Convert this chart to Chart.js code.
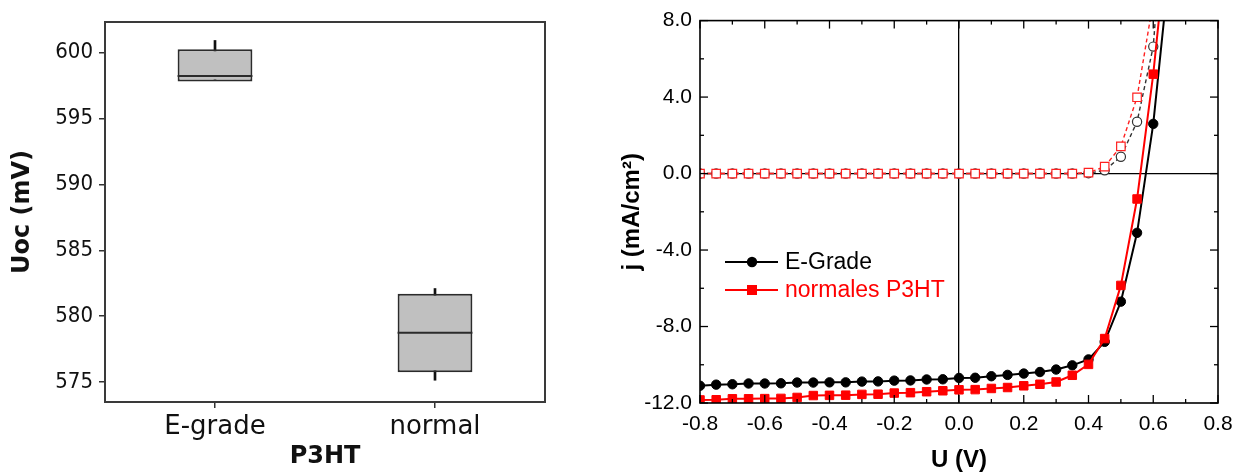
<!DOCTYPE html>
<html>
<head>
<meta charset="utf-8">
<script src="https://cdn.jsdelivr.net/npm/chart.js@4.4.0/dist/chart.umd.min.js"></script>
<style>
    html, body { margin: 0; padding: 0; background: #fff; }
    #wrap { position: relative; width: 1242px; height: 476px; }
    .panel { position: absolute; top: 0; height: 476px; }
    #left { left: 0; width: 620px; }
    #right { left: 620px; width: 622px; }
</style>
</head>
<body>
<div id="wrap">
    <div class="panel" id="left"><canvas id="uoc-chart"></canvas></div>
    <div class="panel" id="right"><canvas id="jv-chart"></canvas></div>
</div>
<script>
// start: data
// left: Uoc box plot
var groups = ['E-grade', 'normal'];
var uocMin = [597.9, 575.15];
var uocQ1 = [597.8, 575.76];
var uocMedian = [598.2, 578.75];
var uocQ3 = [600.23, 581.7];
var uocMax = [600.9, 582.1];
var uocTicks = [575, 580, 585, 590, 595, 600];

// right: j-U curves (light = filled markers, dark = open markers)
var voltage = [-0.8, -0.75, -0.7, -0.65, -0.6, -0.55, -0.5, -0.45, -0.4, -0.35,
               -0.3, -0.25, -0.2, -0.15, -0.1, -0.05, 0.0, 0.05, 0.1, 0.15,
               0.2, 0.25, 0.3, 0.35, 0.4, 0.45, 0.5, 0.55, 0.6, 0.65];
var jEgradeLight = [-11.1, -11.04, -11.02, -10.98, -10.98, -10.97, -10.93, -10.93, -10.92, -10.92,
                    -10.88, -10.87, -10.83, -10.82, -10.77, -10.76, -10.69, -10.68, -10.6, -10.53,
                    -10.46, -10.38, -10.25, -10.03, -9.72, -8.8, -6.7, -3.1, 2.6, 10.8];
var jNormalLight = [-11.84, -11.83, -11.78, -11.78, -11.77, -11.76, -11.71, -11.61, -11.6, -11.59,
                    -11.55, -11.54, -11.48, -11.46, -11.41, -11.36, -11.31, -11.3, -11.24, -11.19,
                    -11.1, -11.02, -10.9, -10.55, -9.98, -8.63, -5.85, -1.33, 5.2, 13.4];
var jEgradeDark = [0, 0, 0, 0, 0, 0, 0, 0, 0, 0,
                   0, 0, 0, 0, 0, 0, 0, 0, 0, 0,
                   0, 0, 0, 0, 0.02, 0.17, 0.88, 2.71, 6.64, 17.6];
var jNormalDark = [0, 0, 0, 0, 0, 0, 0, 0, 0, 0,
                   0, 0, 0, 0, 0, 0, 0, 0, 0, 0,
                   0, 0, 0, 0, 0.05, 0.36, 1.42, 3.99, 9.0, 18.0];
var voltTicks = [-0.8, -0.6, -0.4, -0.2, 0.0, 0.2, 0.4, 0.6, 0.8];
var jTicks = [-12, -8, -4, 0, 4, 8];
// end: data

function points(xs, ys) {
    return xs.map(function(x, i) { return { x: x, y: ys[i] }; });
}

function setTicks(values) {
    return function(scale) {
        scale.ticks = values.map(function(v) { return { value: v }; });
    };
}

// start: Uoc box plot
var boxExtras = {
    id: 'boxExtras',
    afterDatasetsDraw: function(chart) {
        var ctx = chart.ctx;
        var y = chart.scales.y;
        var meta = chart.getDatasetMeta(0);
        ctx.save();
        ctx.strokeStyle = '#2b2b2b';
        ctx.lineWidth = 2;
        meta.data.forEach(function(bar, i) {
            var py = y.getPixelForValue(uocMedian[i]);
            ctx.beginPath();
            ctx.moveTo(bar.x - bar.width / 2, py);
            ctx.lineTo(bar.x + bar.width / 2, py);
            ctx.stroke();
        });
        // frame
        var a = chart.chartArea;
        ctx.strokeStyle = '#3a3a3a';
        ctx.lineWidth = 2;
        ctx.strokeRect(a.left, a.top, a.right - a.left, a.bottom - a.top);
        ctx.restore();
    }
};

new Chart(document.getElementById('uoc-chart'), {
    type: 'bar',
    data: {
        labels: groups,
        datasets: [
            {
                label: 'box',
                data: groups.map(function(g, i) { return [uocQ1[i], uocQ3[i]]; }),
                backgroundColor: '#c0c0c0',
                borderColor: '#2b2b2b',
                borderWidth: 2,
                borderSkipped: false,
                grouped: false,
                categoryPercentage: 1,
                barPercentage: 0.34,
                order: 0
            },
            {
                label: 'whisker',
                data: groups.map(function(g, i) { return [uocMin[i], uocMax[i]]; }),
                backgroundColor: '#111',
                barThickness: 2,
                grouped: false,
                order: 1
            }
        ]
    },
    options: {
        responsive: true,
        maintainAspectRatio: false,
        animation: false,
        devicePixelRatio: 1,
        layout: { padding: { top: 22, right: 75, left: 0, bottom: 0 } },
        plugins: { legend: { display: false }, tooltip: { enabled: false } },
        scales: {
            x: {
                afterFit: function(s) { s.height = 74; },
                grid: { offset: false, drawOnChartArea: false, tickLength: 6, color: '#333', lineWidth: 1.5 },
                border: { display: false },
                ticks: { color: '#111', padding: 4, font: { family: 'DejaVu Sans', size: 26 } },
                title: { display: true, text: 'P3HT', color: '#111', padding: { top: 0, bottom: 5 },
                         font: { family: 'DejaVu Sans', weight: 'bold', size: 24 } }
            },
            y: {
                min: 573.5,
                max: 602.3,
                afterFit: function(s) { s.width = 105; },
                afterBuildTicks: setTicks(uocTicks),
                grid: { drawOnChartArea: false, tickLength: 6, color: '#333', lineWidth: 1.5 },
                border: { display: false },
                ticks: { color: '#111', padding: 6, font: { family: '"DejaVu Sans Condensed", "DejaVu Sans"', size: 22 } },
                title: { display: true, text: 'Uoc (mV)', color: '#111', padding: { top: 8, bottom: 0 },
                         font: { family: 'DejaVu Sans', weight: 'bold', size: 24 } }
            }
        }
    },
    plugins: [boxExtras]
});
// end: Uoc box plot

// start: j-U curves
var jvExtras = {
    id: 'jvExtras',
    afterDraw: function(chart) {
        var ctx = chart.ctx, a = chart.chartArea;
        var xs = chart.scales.x, ys = chart.scales.y;
        ctx.save();
        ctx.strokeStyle = '#000';
        ctx.lineWidth = 1.3;
        function seg(x1, y1, x2, y2) {
            ctx.beginPath(); ctx.moveTo(x1, y1); ctx.lineTo(x2, y2); ctx.stroke();
        }
        // inward ticks on all four sides, major + minor
        voltTicks.forEach(function(v, i) {
            var px = xs.getPixelForValue(v);
            seg(px, a.bottom, px, a.bottom - 8);
            seg(px, a.top, px, a.top + 8);
            if (i < voltTicks.length - 1) {
                var mx = xs.getPixelForValue((v + voltTicks[i + 1]) / 2);
                seg(mx, a.bottom, mx, a.bottom - 4);
                seg(mx, a.top, mx, a.top + 4);
            }
        });
        jTicks.forEach(function(v, i) {
            var py = ys.getPixelForValue(v);
            seg(a.left, py, a.left + 8, py);
            seg(a.right, py, a.right - 8, py);
            if (i < jTicks.length - 1) {
                var my = ys.getPixelForValue((v + jTicks[i + 1]) / 2);
                seg(a.left, my, a.left + 4, my);
                seg(a.right, my, a.right - 4, my);
            }
        });
        ctx.lineWidth = 1.6;
        ctx.strokeRect(a.left, a.top, a.right - a.left, a.bottom - a.top);

        // legend: line - marker - line, then text
        var rows = [
            { ds: chart.data.datasets[1], y: 262 },
            { ds: chart.data.datasets[0], y: 290 }
        ];
        ctx.font = '23px "Liberation Sans", Arial, sans-serif';
        ctx.textBaseline = 'middle';
        rows.forEach(function(r) {
            ctx.strokeStyle = r.ds.borderColor;
            ctx.fillStyle = r.ds.borderColor;
            ctx.lineWidth = 2;
            seg(105, r.y, 158, r.y);
            if (r.ds.pointStyle === 'rect') {
                ctx.fillRect(132 - 5, r.y - 5, 10, 10);
            } else {
                ctx.beginPath(); ctx.arc(132, r.y, 5.2, 0, Math.PI * 2); ctx.fill();
            }
            ctx.fillText(r.ds.label, 165, r.y + 1);
        });
        ctx.restore();
    }
};

function zeroLine(c) {
    return c.tick && c.tick.value === 0 ? '#000' : 'rgba(0,0,0,0)';
}

new Chart(document.getElementById('jv-chart'), {
    type: 'line',
    data: {
        datasets: [
            {
                label: 'normales P3HT',
                data: points(voltage, jNormalLight),
                borderColor: '#ff0000',
                backgroundColor: '#ff0000',
                borderWidth: 2,
                pointStyle: 'rect',
                pointRadius: 6,
                pointBorderWidth: 1,
                tension: 0,
                order: 0
            },
            {
                label: 'E-Grade',
                data: points(voltage, jEgradeLight),
                borderColor: '#000',
                backgroundColor: '#000',
                borderWidth: 2,
                pointStyle: 'circle',
                pointRadius: 4.7,
                pointBorderWidth: 1,
                tension: 0,
                order: 1
            },
            {
                label: 'normales P3HT dunkel',
                data: points(voltage, jNormalDark),
                borderColor: '#ff2020',
                backgroundColor: '#fff',
                borderWidth: 1.4,
                borderDash: [4, 3],
                pointStyle: 'rect',
                pointRadius: 6,
                pointBorderWidth: 1.2,
                tension: 0,
                order: 2
            },
            {
                label: 'E-Grade dunkel',
                data: points(voltage, jEgradeDark),
                borderColor: '#333',
                backgroundColor: '#fff',
                borderWidth: 1.4,
                borderDash: [4, 3],
                pointStyle: 'circle',
                pointRadius: 4.6,
                pointBorderWidth: 1.2,
                tension: 0,
                order: 3
            }
        ]
    },
    options: {
        responsive: true,
        maintainAspectRatio: false,
        animation: false,
        devicePixelRatio: 1,
        layout: { padding: { top: 17, right: 24, left: 0, bottom: 0 } },
        plugins: { legend: { display: false }, tooltip: { enabled: false } },
        scales: {
            x: {
                type: 'linear',
                min: -0.8,
                max: 0.8,
                afterFit: function(s) { s.height = 73; },
                afterBuildTicks: setTicks(voltTicks),
                grid: { drawTicks: false, color: zeroLine, lineWidth: 1.3 },
                border: { display: false },
                ticks: {
                    color: '#000', padding: 9, maxRotation: 0, autoSkip: false,
                    font: { family: 'Liberation Sans', size: 21 },
                    callback: function(v) { return Number(v).toFixed(1); }
                },
                title: { display: true, text: 'U (V)', color: '#000', padding: { top: 0, bottom: 4 },
                         font: { family: 'Liberation Sans', weight: 'bold', size: 24, lineHeight: 1 } }
            },
            y: {
                min: -12,
                max: 8,
                afterFit: function(s) { s.width = 80; },
                afterBuildTicks: setTicks(jTicks),
                grid: { drawTicks: false, color: zeroLine, lineWidth: 1.3 },
                border: { display: false },
                ticks: {
                    color: '#000', padding: 8,
                    font: { family: 'Liberation Sans', size: 21 },
                    callback: function(v) { return Number(v).toFixed(1); }
                },
                title: { display: true, text: 'j (mA/cm²)', color: '#000', padding: { top: 0, bottom: 0 },
                         font: { family: 'Liberation Sans', weight: 'bold', size: 24, lineHeight: 1 } }
            }
        }
    },
    plugins: [jvExtras]
});
// end: j-U curves
</script>
</body>
</html>
